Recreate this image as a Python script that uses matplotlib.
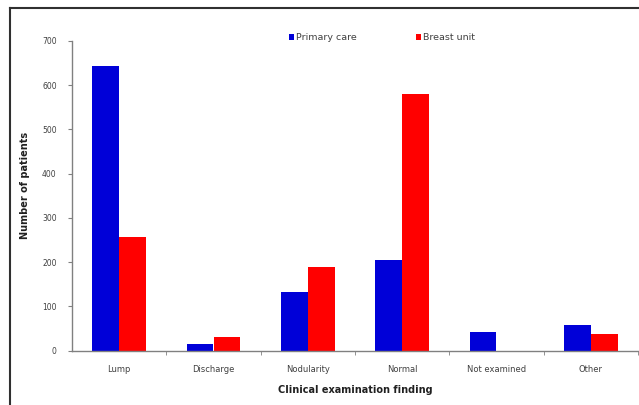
import matplotlib.pyplot as plt
import numpy as np
from matplotlib.lines import Line2D

categories = ["Lump", "Discharge", "Nodularity", "Normal", "Not examined", "Other"]
primary_care = [644, 15, 133, 205, 43, 58]
breast_unit = [258, 31, 189, 580, 0, 37]
y_ticks = [0, 100, 200, 300, 400, 500, 600, 700]

blue = "#0000d8"
red = "#ff0000"
grey = "#808080"

fig = plt.figure(figsize=(6.39, 4.05), dpi=100)
ax = fig.add_axes([72 / 639, 1 - 350.7 / 405, 566 / 639, 309.7 / 405])

x = np.arange(len(categories))
w = 0.283
ax.bar(x - w / 2, primary_care, w, color=blue, label="Primary care")
ax.bar(x + w / 2, breast_unit, w, color=red, label="Breast unit")

ax.set_xlim(-0.5, len(categories) - 0.5)
ax.set_ylim(0, 700)
ax.set_yticks(y_ticks)
ax.set_yticklabels([str(v) for v in y_ticks])
ax.set_xticks(x)
ax.set_xticklabels(categories)
ax.set_xticks(np.arange(len(categories)) + 0.5, minor=True)

ax.tick_params(axis="x", which="major", length=0, pad=10, labelsize=6, labelcolor="#404040")
ax.tick_params(axis="x", which="minor", length=3, color=grey, direction="out")
ax.tick_params(axis="y", length=3, color=grey, pad=8, labelsize=5.5, labelcolor="#404040")

for side in ["top", "right"]:
    ax.spines[side].set_visible(False)
for side in ["left", "bottom"]:
    ax.spines[side].set_color(grey)
    ax.spines[side].set_linewidth(1.0)

fig.text(25 / 639, 1 - 185 / 405, "Number of patients", rotation=90, ha="center", va="center",
         fontsize=7, fontweight="bold", color="#202020")
fig.text(355 / 639, 1 - 390 / 405, "Clinical examination finding", ha="center", va="center",
         fontsize=7, fontweight="bold", color="#202020")

leg = ax.legend(loc="center", bbox_to_anchor=(382 / 639, 1 - 38 / 405), bbox_transform=fig.transFigure,
                ncol=2, frameon=False, fontsize=6.8, handlelength=0.5, handleheight=0.5,
                handletextpad=0.2, columnspacing=6.3, labelcolor="#404040")

# frame around the figure (left and top edges visible)
fig.add_artist(Line2D([10 / 639, 10 / 639], [0, 1 - 8 / 405], transform=fig.transFigure,
                      color="#303030", linewidth=1.5))
fig.add_artist(Line2D([10 / 639, 1], [1 - 8 / 405, 1 - 8 / 405], transform=fig.transFigure,
                      color="#303030", linewidth=1.5))

fig.savefig("out.png", dpi=100)
